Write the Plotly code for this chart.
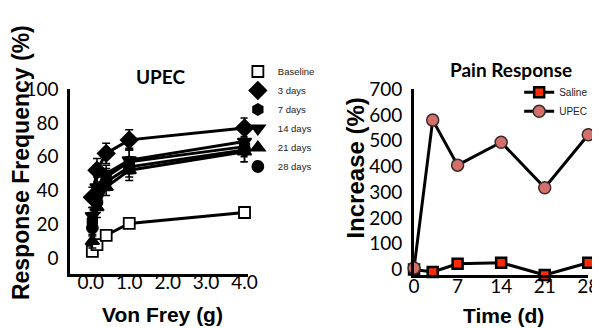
import plotly.graph_objects as go

# ---- data: left panel (UPEC von Frey) ----
vf_force = [0.04, 0.16, 0.4, 1.0, 4.0]
series_names = ["Baseline", "3 days", "7 days", "14 days", "21 days", "28 days"]
baseline = [4, 8, 13.5, 20.5, 27]
baseline_err = [1, 1, 1, 1.5, 2]
d3 = [36, 52, 62, 70, 77]
d3_err = [6, 7, 6, 6, 6]
d7 = [22, 38, 48, 57, 66]
d7_err = [5, 6, 5, 7, 6]
d14 = [25, 42, 50, 58, 69]
d14_err = [5, 6, 5, 7, 5]
d21 = [10, 30, 42, 52, 63]
d21_err = [4, 6, 5, 6, 6]
d28 = [18, 33, 45, 54, 64]
d28_err = [5, 6, 5, 6, 7]

left_ticks = [0.0, 1.0, 2.0, 3.0, 4.0]
left_ticktext = ["0.0", "1.0", "2.0", "3.0", "4.0"]
left_yticks = [0, 20, 40, 60, 80, 100]

# ---- data: right panel (pain response) ----
days = [0, 3, 7, 14, 21, 28]
saline = [0, -10, 22, 26, -22, 26]
upec = [5, 580, 405, 494, 317, 523]
right_xticks = [0, 7, 14, 21, 28]
right_yticks = [0, 100, 200, 300, 400, 500, 600, 700]

W, H = 600, 328
def px_x(a, b):
    return [a / W, b / W]
def px_y(top, bottom):
    return [1 - bottom / H, 1 - top / H]

HUMAN = "Lato, Open Sans, sans-serif"
BOLD = "Liberation Sans, Arial"

fig = go.Figure()

left_series = [
    (baseline, baseline_err, "square", "white", 11),
    (d3, d3_err, "diamond", "black", 13),
    (d7, d7_err, "hexagon", "black", 11),
    (d14, d14_err, "triangle-down", "black", 12),
    (d21, d21_err, "triangle-up", "black", 12),
    (d28, d28_err, "circle", "black", 11),
]
# connecting lines (not in legend)
for name, (vals, errs, sym, fill, sz) in zip(series_names, left_series):
    fig.add_trace(go.Scatter(
        x=vf_force, y=vals, name=name, mode="lines",
        line=dict(color="black", width=3), showlegend=False,
        hoverinfo="skip", xaxis="x", yaxis="y",
    ))
# markers with error bars (legend shows marker only)
for name, (vals, errs, sym, fill, sz) in zip(series_names, left_series):
    fig.add_trace(go.Scatter(
        x=vf_force, y=vals, name=name, mode="markers",
        marker=dict(symbol=sym, color=fill, size=sz,
                    line=dict(color="black", width=1.8)),
        error_y=dict(type="data", array=errs, visible=True,
                     color="black", thickness=1.5, width=4),
        xaxis="x", yaxis="y", legend="legend", cliponaxis=False,
    ))

fig.add_trace(go.Scatter(
    x=days, y=saline, name="Saline", mode="lines+markers",
    line=dict(color="black", width=3),
    marker=dict(symbol="square", color="#FF2A00", size=10,
                line=dict(color="black", width=2.5)),
    xaxis="x2", yaxis="y2", legend="legend2", cliponaxis=False,
))
fig.add_trace(go.Scatter(
    x=days, y=upec, name="UPEC", mode="lines+markers",
    line=dict(color="black", width=3),
    marker=dict(symbol="circle", color="#D4706C", size=12,
                line=dict(color="#3a2a2a", width=1.5)),
    xaxis="x2", yaxis="y2", legend="legend2", cliponaxis=False,
))

tickfont = dict(family=HUMAN, size=19, color="black")

axis_common = dict(showgrid=False, zeroline=False, showline=True,
                   linecolor="black", linewidth=3, ticks="")

fig.update_layout(
    width=W, height=H,
    margin=dict(l=0, r=0, t=0, b=0),
    paper_bgcolor="white", plot_bgcolor="white",
    showlegend=True,
    xaxis=dict(domain=px_x(58, 240), range=[-0.53, 4.08],
               tickvals=left_ticks, ticktext=left_ticktext,
               tickfont=tickfont, anchor="y", ticklabelstandoff=-11,
               **axis_common),
    yaxis=dict(domain=px_y(73, 268), range=[-9.5, 100],
               tickvals=left_yticks, tickfont=tickfont, anchor="x",
               ticklabelstandoff=5, **axis_common),
    xaxis2=dict(domain=px_x(411, 590), range=[0, 28],
                tickvals=right_xticks, tickfont=tickfont, anchor="y2",
                ticklabelstandoff=-8, **axis_common),
    yaxis2=dict(domain=px_y(73, 269), range=[-22, 700],
                tickvals=right_yticks, tickfont=tickfont, anchor="x2",
                ticklabelstandoff=5, **axis_common),
    legend=dict(x=230 / W, y=1 - 39 / H, xanchor="left", yanchor="top",
                font=dict(family=BOLD, size=9.5, color="#222", weight="normal"),
                bgcolor="rgba(0,0,0,0)", itemwidth=30, tracegroupgap=0),
    legend2=dict(x=519 / W, y=1 - 61 / H, xanchor="left", yanchor="top",
                 font=dict(family=BOLD, size=10, color="#222", weight="normal"),
                 bgcolor="rgba(0,0,0,0)", itemwidth=30, tracegroupgap=0),
)

title_font = dict(family=HUMAN, size=19, color="black")
annotations = [
    dict(text="<b>UPEC</b>", x=150 / W, y=1 - 60 / H, font=title_font),
    dict(text="<b>Pain Response</b>", x=511 / W, y=1 - 52 / H, font=title_font),
    dict(text="<b>Response Frequency (%)</b>", x=7 / W, y=1 - 150 / H,
         textangle=-90, font=dict(family=BOLD, size=23, color="black")),
    dict(text="<b>Increase (%)</b>", x=351 / W, y=1 - 156 / H,
         textangle=-90, font=dict(family=BOLD, size=24, color="black")),
    dict(text="<b>Von Frey (g)</b>", x=153 / W, y=1 - 311 / H,
         font=dict(family=BOLD, size=21, color="black")),
    dict(text="<b>Time (d)</b>", x=503 / W, y=1 - 312 / H,
         font=dict(family=BOLD, size=21, color="black")),
]
for a in annotations:
    a.update(xref="paper", yref="paper", showarrow=False,
             xanchor="center", yanchor="middle")
fig.update_layout(annotations=annotations)

fig.write_html("out.html")
